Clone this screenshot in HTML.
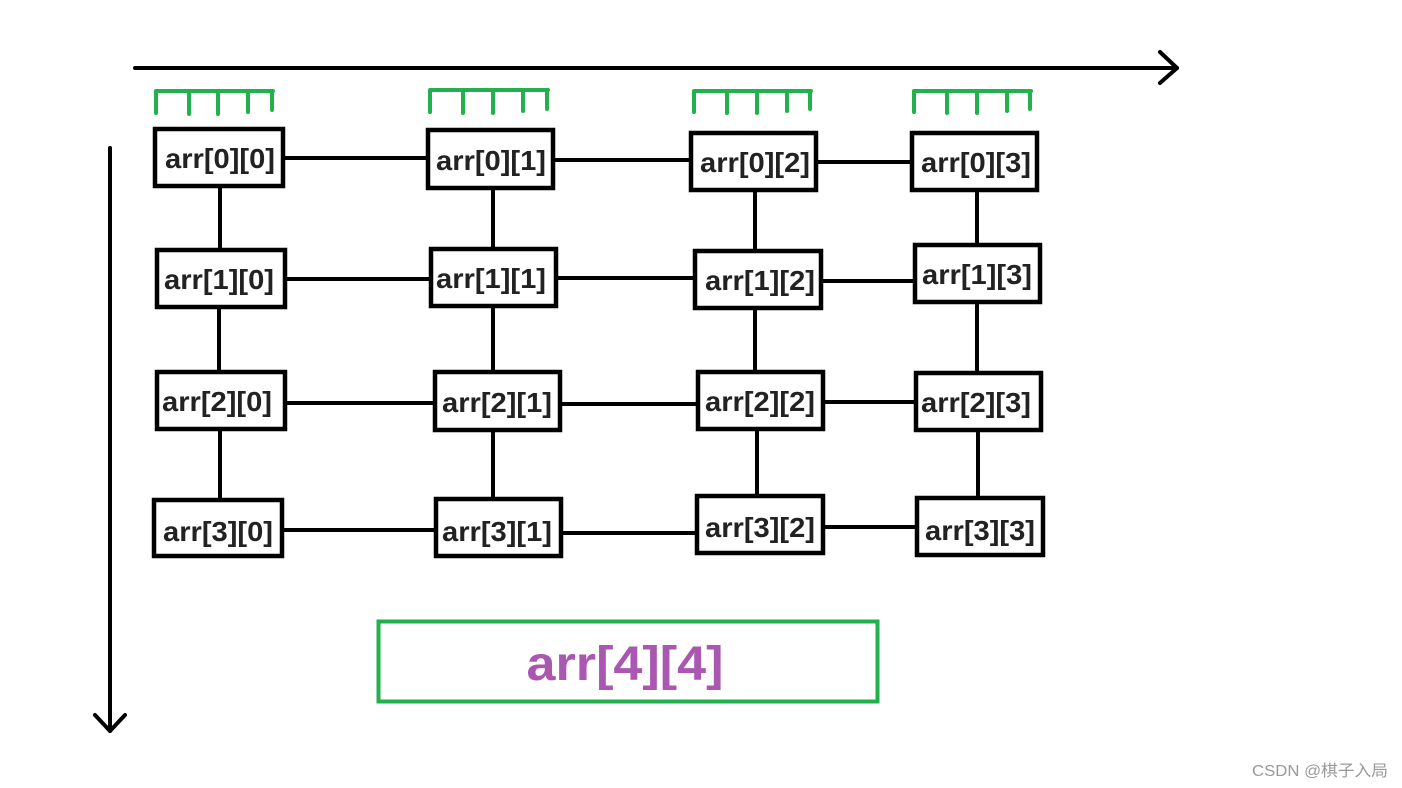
<!DOCTYPE html>
<html><head><meta charset="utf-8"><style>
html,body{margin:0;padding:0;background:#fff;}
svg{display:block;}
</style></head><body>
<svg width="1402" height="788" viewBox="0 0 1402 788" xmlns="http://www.w3.org/2000/svg">
<rect width="1402" height="788" fill="#fff"/>
<g stroke="#000" stroke-width="4" stroke-linecap="round" fill="none">
<line x1="135" y1="68" x2="1177" y2="68"/>
<polyline points="1160,52 1177,68 1160,83" stroke-linejoin="round"/>
<line x1="110" y1="148" x2="110" y2="731"/>
<polyline points="95,715 110,731 125,715" stroke-linejoin="round"/>
</g>
<g stroke="#22b14c" stroke-width="4" stroke-linecap="round" fill="none">
<path d="M156,91 H273 M156,91 V113 M189,91 V114 M218,91 V114 M248,91 V112 M272,91 V110"/>
<path d="M430,90 H548 M430,90 V112 M463,90 V113 M493,90 V113 M523,90 V111 M547,90 V109"/>
<path d="M694,91 H811 M694,91 V112 M727,91 V113 M757,91 V113 M787,91 V111 M810,91 V109"/>
<path d="M914,91 H1031 M914,91 V112 M947,91 V113 M977,91 V113 M1007,91 V111 M1030,91 V109"/>
</g>
<g stroke="#000" stroke-width="4" fill="none">
<line x1="283" y1="158" x2="428" y2="158"/><line x1="553" y1="160" x2="691" y2="160"/><line x1="816" y1="162" x2="912" y2="162"/>
<line x1="285" y1="279" x2="431" y2="279"/><line x1="556" y1="278" x2="695" y2="278"/><line x1="821" y1="281" x2="915" y2="281"/>
<line x1="285" y1="403" x2="435" y2="403"/><line x1="560" y1="404" x2="698" y2="404"/><line x1="823" y1="402" x2="916" y2="402"/>
<line x1="282" y1="530" x2="436" y2="530"/><line x1="561" y1="533" x2="697" y2="533"/><line x1="823" y1="527" x2="917" y2="527"/>
<line x1="220" y1="186" x2="220" y2="250"/><line x1="219" y1="307" x2="219" y2="372"/><line x1="220" y1="429" x2="220" y2="500"/>
<line x1="493" y1="188" x2="493" y2="249"/><line x1="493" y1="306" x2="493" y2="372"/><line x1="493" y1="430" x2="493" y2="499"/>
<line x1="755" y1="190" x2="755" y2="251"/><line x1="755" y1="308" x2="755" y2="372"/><line x1="757" y1="429" x2="757" y2="496"/>
<line x1="977" y1="190" x2="977" y2="245"/><line x1="977" y1="302" x2="977" y2="373"/><line x1="978" y1="430" x2="978" y2="498"/>
</g>
<g stroke="#000" stroke-width="4.5" fill="#fff">
<rect x="155" y="129" width="128" height="57"/><rect x="428" y="130" width="125" height="58"/><rect x="691" y="133" width="125" height="57"/><rect x="912" y="133" width="125" height="57"/>
<rect x="157" y="250" width="128" height="57"/><rect x="431" y="249" width="125" height="57"/><rect x="695" y="251" width="126" height="57"/><rect x="915" y="245" width="125" height="57"/>
<rect x="157" y="372" width="128" height="57"/><rect x="435" y="372" width="125" height="58"/><rect x="698" y="372" width="125" height="57"/><rect x="916" y="373" width="125" height="57"/>
<rect x="154" y="500" width="128" height="56"/><rect x="436" y="499" width="125" height="57"/><rect x="697" y="496" width="126" height="57"/><rect x="917" y="498" width="126" height="57"/>
</g>
<g font-family="Liberation Sans, sans-serif" font-weight="bold" font-size="28" fill="#222" text-anchor="middle">
<text x="220" y="168" textLength="110" lengthAdjust="spacingAndGlyphs">arr[0][0]</text>
<text x="491" y="170" textLength="110" lengthAdjust="spacingAndGlyphs">arr[0][1]</text>
<text x="755" y="172" textLength="110" lengthAdjust="spacingAndGlyphs">arr[0][2]</text>
<text x="976" y="172" textLength="110" lengthAdjust="spacingAndGlyphs">arr[0][3]</text>
<text x="219" y="289" textLength="110" lengthAdjust="spacingAndGlyphs">arr[1][0]</text>
<text x="491" y="288" textLength="110" lengthAdjust="spacingAndGlyphs">arr[1][1]</text>
<text x="760" y="290" textLength="110" lengthAdjust="spacingAndGlyphs">arr[1][2]</text>
<text x="977" y="284" textLength="110" lengthAdjust="spacingAndGlyphs">arr[1][3]</text>
<text x="217" y="411" textLength="110" lengthAdjust="spacingAndGlyphs">arr[2][0]</text>
<text x="497" y="412" textLength="110" lengthAdjust="spacingAndGlyphs">arr[2][1]</text>
<text x="760" y="411" textLength="110" lengthAdjust="spacingAndGlyphs">arr[2][2]</text>
<text x="976" y="412" textLength="110" lengthAdjust="spacingAndGlyphs">arr[2][3]</text>
<text x="218" y="541" textLength="110" lengthAdjust="spacingAndGlyphs">arr[3][0]</text>
<text x="497" y="541" textLength="110" lengthAdjust="spacingAndGlyphs">arr[3][1]</text>
<text x="760" y="537" textLength="110" lengthAdjust="spacingAndGlyphs">arr[3][2]</text>
<text x="980" y="540" textLength="110" lengthAdjust="spacingAndGlyphs">arr[3][3]</text>
</g>
<rect x="378.5" y="621.5" width="499" height="80" fill="none" stroke="#22b14c" stroke-width="4"/>
<text x="625" y="680" font-family="Liberation Sans, sans-serif" font-weight="bold" font-size="48" fill="#a957b0" text-anchor="middle" textLength="197" lengthAdjust="spacingAndGlyphs">arr[4][4]</text>
<text x="1252" y="776" font-family="Liberation Sans, 'Noto Sans CJK SC', sans-serif" font-size="16" fill="#999" textLength="136" lengthAdjust="spacingAndGlyphs">CSDN @棋子入局</text>
</svg>
</body></html>
